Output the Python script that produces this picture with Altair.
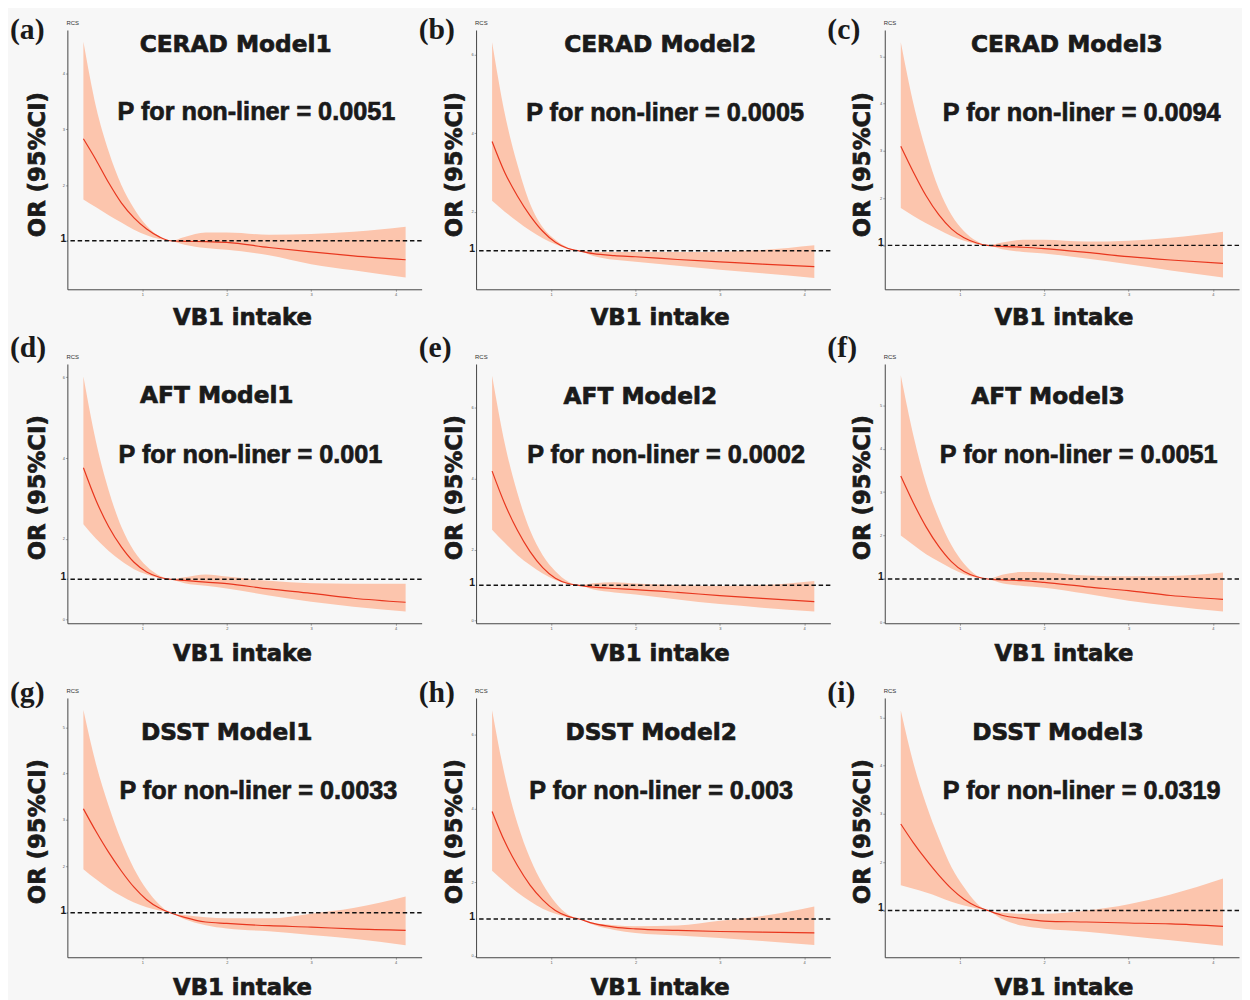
import altair as alt
import pandas as pd

# ---------------- data ----------------
X = [0.30, 0.45, 0.60, 0.75, 0.90, 1.05, 1.20, 1.33, 1.50, 1.75, 2.00, 2.50, 3.00, 3.50, 4.12]

labels = ["(a)", "(b)", "(c)", "(d)", "(e)", "(f)", "(g)", "(h)", "(i)"]
titles = ["CERAD Model1", "CERAD Model2", "CERAD Model3",
          "AFT Model1", "AFT Model2", "AFT Model3",
          "DSST Model1", "DSST Model2", "DSST Model3"]
p_values = ["0.0051", "0.0005", "0.0094", "0.001", "0.0002", "0.0051", "0.0033", "0.003", "0.0319"]
x_title = "VB1 intake"
y_title = "OR (95%CI)"

or_a = [2.83, 2.45, 2.04, 1.68, 1.41, 1.21, 1.07, 1.00, 0.99, 0.985, 0.97, 0.88, 0.80, 0.73, 0.66]
hi_a = [4.57, 3.40, 2.60, 2.00, 1.58, 1.27, 1.08, 1.00, 1.07, 1.15, 1.15, 1.11, 1.12, 1.16, 1.25]
lo_a = [1.74, 1.60, 1.46, 1.33, 1.20, 1.10, 1.03, 1.00, 0.93, 0.87, 0.84, 0.74, 0.58, 0.47, 0.34]

or_b = [3.79, 3.00, 2.40, 1.90, 1.50, 1.22, 1.06, 1.00, 0.93, 0.88, 0.85, 0.78, 0.72, 0.66, 0.60]
hi_b = [6.32, 4.50, 3.20, 2.20, 1.60, 1.28, 1.08, 1.00, 0.98, 0.97, 0.97, 0.97, 0.98, 1.02, 1.14]
lo_b = [2.28, 2.00, 1.75, 1.52, 1.32, 1.17, 1.05, 1.00, 0.87, 0.77, 0.72, 0.62, 0.52, 0.43, 0.31]

or_c = [3.10, 2.55, 2.05, 1.65, 1.35, 1.16, 1.05, 1.00, 0.98, 0.96, 0.93, 0.85, 0.76, 0.69, 0.62]
hi_c = [5.30, 4.00, 3.00, 2.20, 1.65, 1.30, 1.09, 1.00, 1.06, 1.12, 1.12, 1.08, 1.10, 1.16, 1.29]
lo_c = [1.79, 1.62, 1.47, 1.33, 1.20, 1.10, 1.03, 1.00, 0.92, 0.86, 0.83, 0.72, 0.60, 0.47, 0.32]

or_d = [3.76, 2.95, 2.30, 1.80, 1.42, 1.18, 1.05, 1.00, 0.97, 0.93, 0.89, 0.76, 0.65, 0.53, 0.43]
hi_d = [6.02, 4.40, 3.20, 2.30, 1.70, 1.32, 1.09, 1.00, 1.05, 1.12, 1.07, 0.96, 0.90, 0.89, 0.89]
lo_d = [2.36, 2.00, 1.70, 1.45, 1.25, 1.12, 1.03, 1.00, 0.90, 0.84, 0.77, 0.60, 0.44, 0.32, 0.20]

or_e = [4.22, 3.30, 2.55, 1.95, 1.50, 1.20, 1.05, 1.00, 0.95, 0.91, 0.88, 0.80, 0.71, 0.63, 0.54]
hi_e = [6.91, 5.00, 3.60, 2.55, 1.85, 1.40, 1.11, 1.00, 1.06, 1.09, 1.05, 1.00, 0.98, 1.00, 1.12]
lo_e = [2.57, 2.20, 1.85, 1.57, 1.33, 1.15, 1.04, 1.00, 0.88, 0.80, 0.74, 0.60, 0.47, 0.37, 0.26]

or_f = [3.37, 2.75, 2.20, 1.75, 1.40, 1.17, 1.05, 1.00, 0.98, 0.96, 0.92, 0.82, 0.73, 0.62, 0.53]
hi_f = [5.69, 4.30, 3.20, 2.40, 1.78, 1.35, 1.08, 1.00, 1.10, 1.16, 1.15, 1.08, 1.06, 1.07, 1.15]
lo_f = [2.00, 1.78, 1.57, 1.40, 1.24, 1.11, 1.03, 1.00, 0.90, 0.84, 0.80, 0.66, 0.50, 0.38, 0.25]

or_g = [3.24, 2.75, 2.30, 1.90, 1.55, 1.28, 1.10, 1.00, 0.90, 0.80, 0.77, 0.72, 0.69, 0.65, 0.62]
hi_g = [5.37, 4.20, 3.30, 2.55, 1.95, 1.50, 1.18, 1.00, 0.95, 0.90, 0.88, 0.88, 0.98, 1.10, 1.35]
lo_g = [1.94, 1.72, 1.52, 1.36, 1.22, 1.12, 1.05, 1.00, 0.86, 0.73, 0.66, 0.60, 0.52, 0.44, 0.30]

or_h = [3.92, 3.10, 2.45, 1.92, 1.52, 1.23, 1.07, 1.00, 0.88, 0.78, 0.73, 0.69, 0.66, 0.64, 0.62]
hi_h = [6.67, 4.90, 3.60, 2.65, 1.95, 1.45, 1.12, 1.00, 0.90, 0.83, 0.80, 0.82, 0.95, 1.08, 1.34]
lo_h = [2.31, 2.00, 1.72, 1.48, 1.28, 1.14, 1.04, 1.00, 0.84, 0.70, 0.62, 0.55, 0.48, 0.40, 0.29]

or_i = [2.79, 2.40, 2.05, 1.73, 1.45, 1.23, 1.08, 1.00, 0.90, 0.83, 0.78, 0.76, 0.74, 0.72, 0.67]
hi_i = [5.14, 4.05, 3.20, 2.50, 1.90, 1.48, 1.15, 1.00, 0.95, 0.93, 0.93, 1.00, 1.13, 1.33, 1.66]
lo_i = [1.52, 1.45, 1.37, 1.28, 1.18, 1.10, 1.04, 1.00, 0.82, 0.68, 0.62, 0.56, 0.47, 0.38, 0.27]

ORS = [or_a, or_b, or_c, or_d, or_e, or_f, or_g, or_h, or_i]
HIS = [hi_a, hi_b, hi_c, hi_d, hi_e, hi_f, hi_g, hi_h, hi_i]
LOS = [lo_a, lo_b, lo_c, lo_d, lo_e, lo_f, lo_g, lo_h, lo_i]

x_ticks = [1, 2, 3, 4]
y_ticks = [[1, 2, 3, 4], [2, 4, 6], [1, 2, 3, 4, 5],
           [0, 2, 4, 6], [0, 2, 4, 6], [0, 1, 2, 3, 4, 5],
           [1, 2, 3, 4, 5], [0, 2, 4, 6], [1, 2, 3, 4, 5]]
x_domain = [0.11, 4.31]
y_domains = [[0.13, 4.78], [0.02, 6.63], [0.07, 5.56],
             [-0.09, 6.33], [-0.07, 7.24], [-0.02, 5.95],
             [0.04, 5.63], [-0.04, 7.00], [0.03, 5.40]]

# ---------------- layout (annotation offsets, px relative to plot origin) ----------------
W, H = 358, 262
title_pos = [(170, 15), (186, 15), (184, 15), (151, 32), (166, 33), (165, 33), (161, 35), (177, 35), (175, 35)]
p_pos = [(191, 83), (191, 84), (199, 84), (185, 92), (192, 92), (196, 92), (193, 94), (187, 94), (199, 94)]
ytitle_x = [-30, -21, -22] * 3
ytitle_y = [136] * 3 + [125] * 3 + [135] * 3
xtitle_x = [177, 186, 181] * 3
xtitle_y = [H + 29] * 3 + [H + 31] * 3 + [H + 31] * 3
label_y = [0] * 3 + [-16] * 3 + [-5] * 3

BAND = "#fcc5ad"
LINE = "#e8361e"
TXT = "#1a1a1a"
HEAD_FONT = "DejaVu Sans"
HEAVY = dict(stroke=TXT, strokeWidth=0.7, color=TXT, fontWeight="bold")


def txt(s, x, y, **kw):
    return alt.Chart(pd.DataFrame({"t": [s]})).mark_text(**kw).encode(
        x=alt.value(x), y=alt.value(y), text="t:N")


def panel(i):
    df = pd.DataFrame({"x": X, "or": ORS[i], "lo": LOS[i], "hi": HIS[i]})
    xs = alt.Scale(domain=x_domain, nice=False, zero=False)
    ys = alt.Scale(domain=y_domains[i], nice=False, zero=False)
    xax = alt.Axis(values=x_ticks, title=None)
    yax = alt.Axis(values=y_ticks[i], title=None)
    base = alt.Chart(df)
    band = base.mark_area(color=BAND, opacity=1, interpolate="monotone").encode(
        x=alt.X("x:Q", scale=xs, axis=xax),
        y=alt.Y("lo:Q", scale=ys, axis=yax),
        y2="hi:Q",
    )
    line = base.mark_line(color=LINE, strokeWidth=1.2, interpolate="monotone").encode(
        x=alt.X("x:Q", scale=xs, axis=xax),
        y=alt.Y("or:Q", scale=ys, axis=yax),
    )
    ref = alt.Chart(pd.DataFrame({"ref": [1]})).mark_rule(
        color="#111111", strokeWidth=1.5, strokeDash=[4.5, 2.8]
    ).encode(y=alt.Y("ref:Q", scale=ys, axis=yax))
    one = alt.Chart(pd.DataFrame({"ref": [1], "t": ["1"]})).mark_text(
        font="Liberation Sans", fontWeight="bold", fontSize=10.5, align="right", baseline="middle",
        dx=-1, dy=-2, color=TXT
    ).encode(y=alt.Y("ref:Q", scale=ys, axis=yax), x=alt.value(0), text="t:N")
    rcs = txt("RCS", -1, -7, font="Liberation Sans", fontSize=6, align="left", baseline="middle",
              color="#333333")
    lab = txt(labels[i], -58, label_y[i], font="Liberation Serif", fontWeight="bold", fontSize=30,
              align="left", baseline="middle", color=TXT)
    ttl = txt(titles[i], title_pos[i][0], title_pos[i][1], font=HEAD_FONT, fontSize=23.5,
              align="center", baseline="middle", **HEAVY)
    ptxt = txt("P for non-liner = " + p_values[i], p_pos[i][0], p_pos[i][1], font="Liberation Sans",
               fontSize=25.5, align="center", baseline="middle", **HEAVY)
    xt = txt(x_title, xtitle_x[i], xtitle_y[i], font=HEAD_FONT, fontSize=23,
             align="center", baseline="middle", **HEAVY)
    yt = txt(y_title, ytitle_x[i], ytitle_y[i], font=HEAD_FONT, fontSize=23, angle=270,
             align="center", baseline="middle", **HEAVY)
    return alt.layer(band, line, ref, one, rcs, lab, ttl, ptxt, xt, yt).properties(width=W, height=H)


chart = alt.concat(
    *[panel(i) for i in range(9)],
    columns=3,
    spacing=alt.RowColnumber(row=75.5, column=55),
    bounds="flush",
).resolve_scale(x="independent", y="independent").properties(
    padding={"left": 2, "top": 2, "right": 2, "bottom": 0}
).configure(
    background="#f7f7f7"
).configure_view(
    stroke=None
).configure_axis(
    grid=False,
    domainColor="#444444",
    domainWidth=1,
    tickColor="#666666",
    tickSize=2,
    tickWidth=0.6,
    labelFontSize=4,
    labelColor="#555555",
    labelPadding=1,
    labelFont="Liberation Sans",
)

chart.save("out.html", embed_options={"renderer": "svg", "actions": False})
